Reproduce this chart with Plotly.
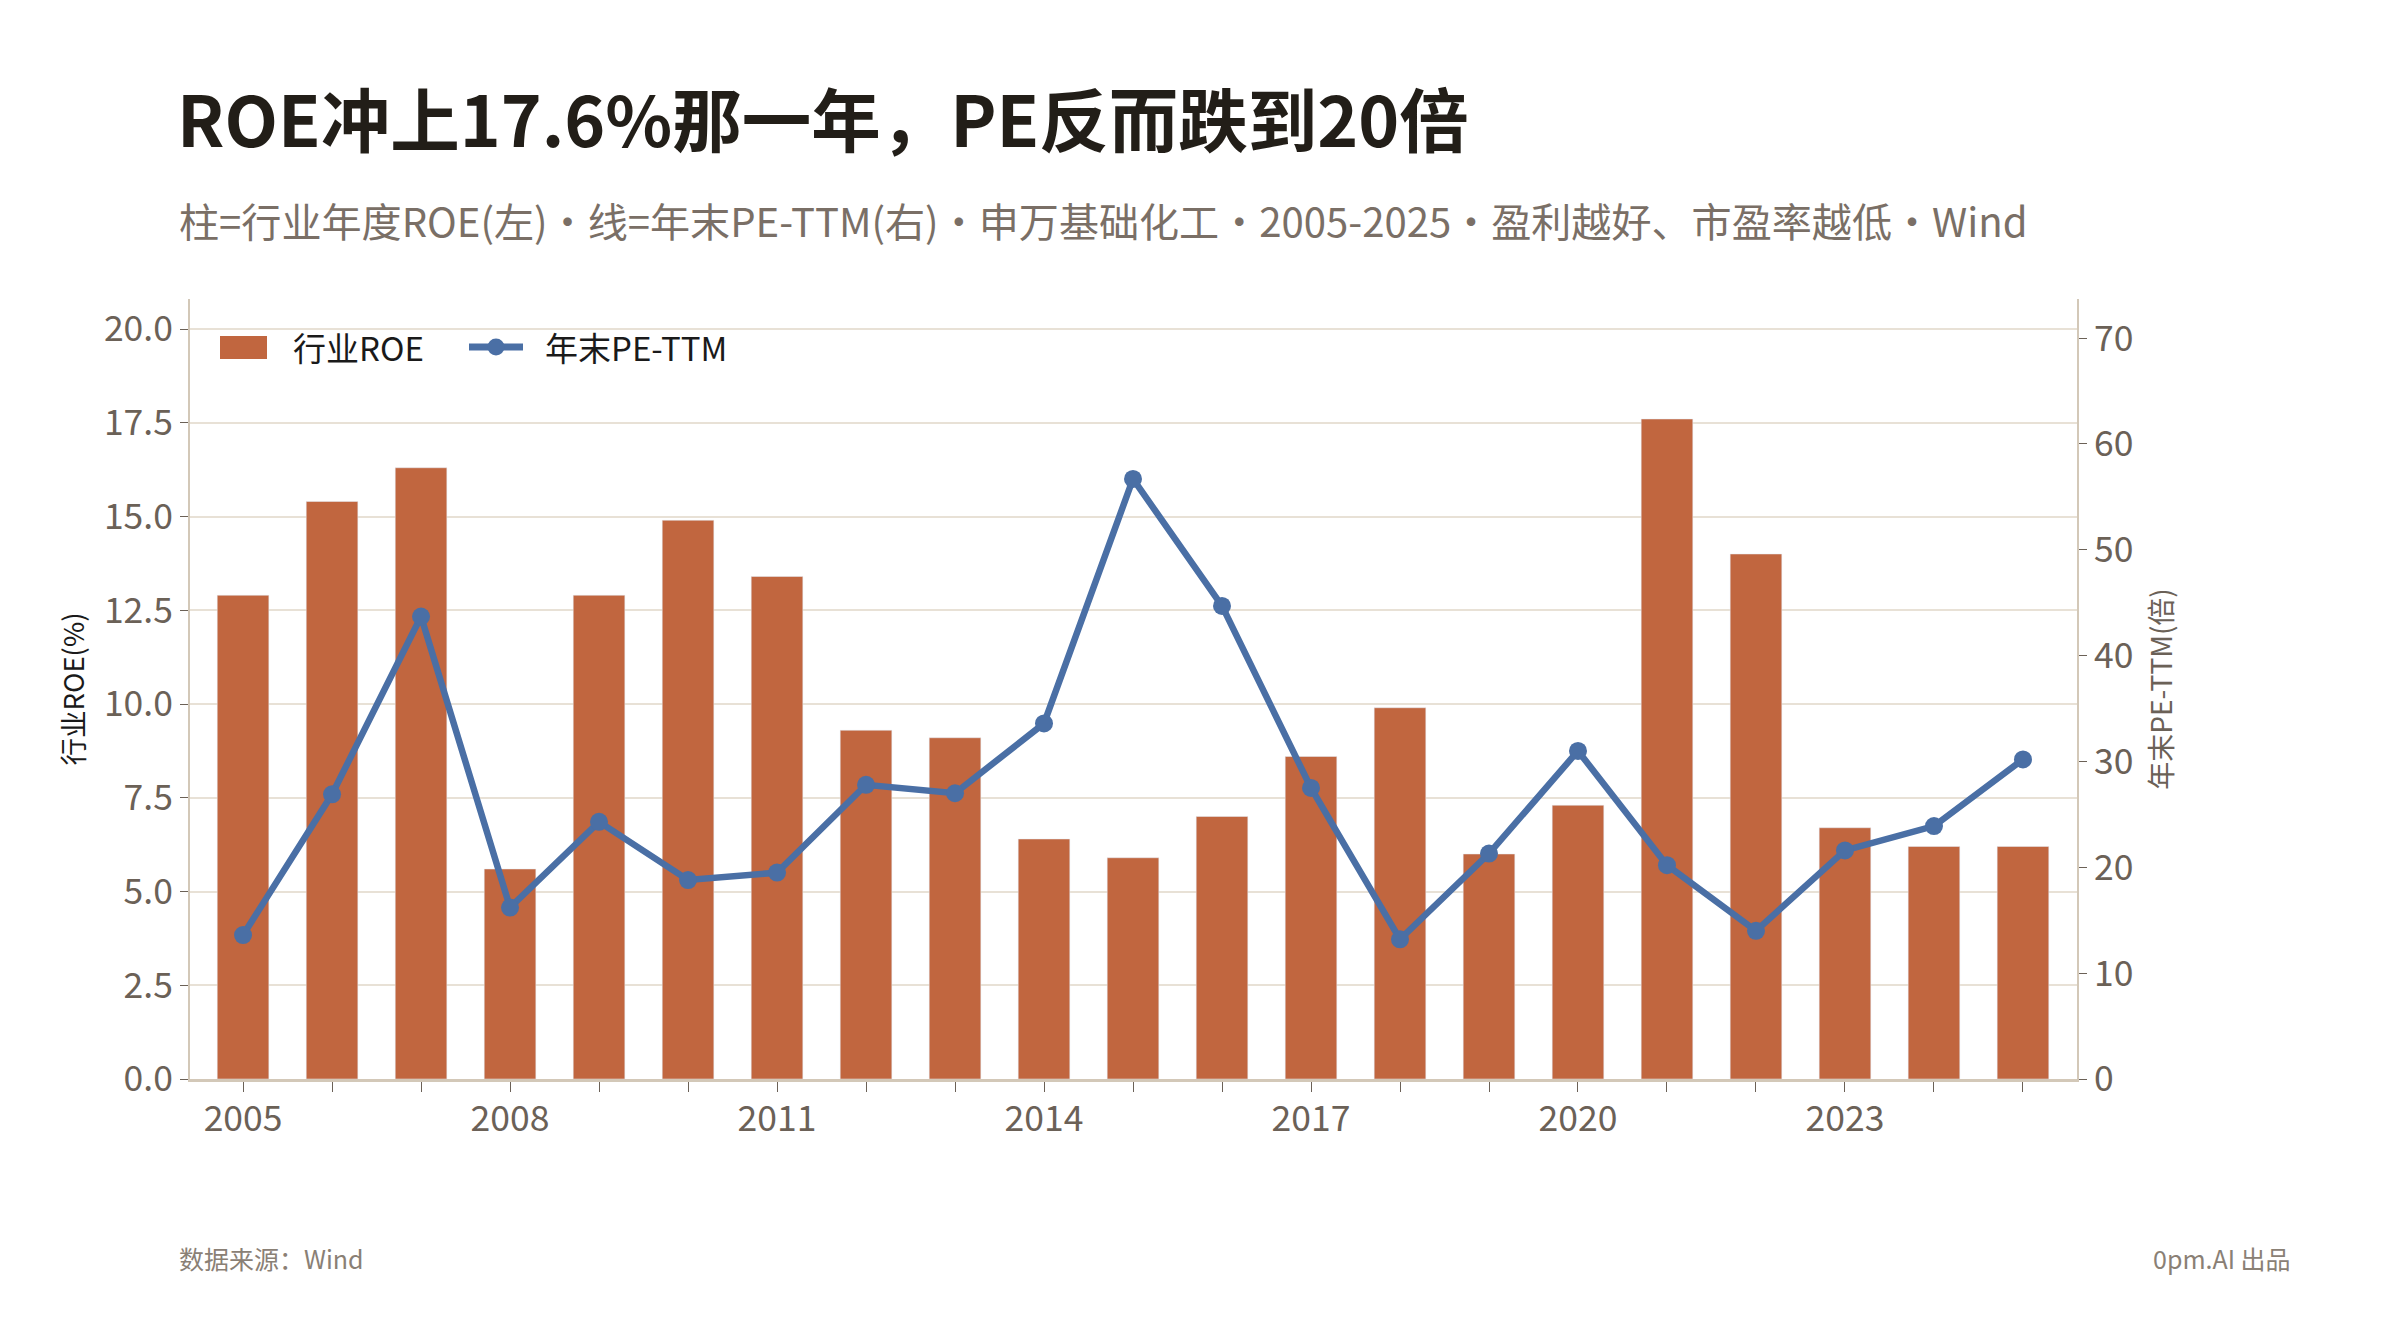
import plotly.graph_objects as go

years = list(range(2005, 2026))
roe = [12.9, 15.4, 16.3, 5.6, 12.9, 14.9, 13.4, 9.3, 9.1, 6.4, 5.9,
       7.0, 8.6, 9.9, 6.0, 7.3, 17.6, 14.0, 6.7, 6.2, 6.2]
pe = [13.6, 26.9, 43.7, 16.2, 24.3, 18.8, 19.5, 27.8, 27.0, 33.6, 56.7,
      44.7, 27.5, 13.2, 21.3, 31.0, 20.2, 14.0, 21.6, 23.9, 30.2]

title = "ROE冲上17.6%那一年，PE反而跌到20倍"
subtitle = "柱=行业年度ROE(左)・线=年末PE-TTM(右)・申万基础化工・2005-2025・盈利越好、市盈率越低・Wind"
source = "数据来源：Wind"
credit = "0pm.AI 出品"
bar_name = "行业ROE"
line_name = "年末PE-TTM"

FONT = "Noto Sans CJK SC"
BAR = "#c1663f"
LINE = "#4a6fa5"
GRID = "#e8e1d6"
AXIS = "#d3c8b8"
TICK = "#6b6157"

# plot area in px (figure coords)
L, R, T, B = 182, 2069, 291, 1071
PW, PH = R - L, B - T


def px(x):
    return (x - L) / PW


def py(y):
    return (B - y) / PH


fig = go.Figure()
fig.add_trace(go.Bar(x=years, y=roe, name=bar_name, marker_color=BAR,
                     width=0.58, yaxis="y"))
fig.add_trace(go.Scatter(x=years, y=pe, name=line_name, mode="lines+markers",
                         line=dict(color=LINE, width=6.5),
                         marker=dict(color=LINE, size=18), yaxis="y2"))

fig.update_layout(
    width=2400, height=1320,
    paper_bgcolor="white", plot_bgcolor="white",
    margin=dict(l=L, r=2400 - R, t=T, b=1320 - B),
    font=dict(family=FONT, color=TICK, size=35),
    title=dict(text="<b>" + title + "</b>", x=169 / 2400, xref="container",
               xanchor="left", y=1 - 115 / 1320, yanchor="middle",
               font=dict(size=69.5, color="#221e18", family=FONT)),
    showlegend=False,
    xaxis=dict(range=[2004.404, 2025.607], tickmode="linear", tick0=2005, dtick=3,
               ticks="outside", ticklen=10, tickcolor=TICK, showgrid=False,
               showline=True, linecolor=AXIS, linewidth=3,
               ticklabelstandoff=-4,
               minor=dict(dtick=1, tick0=2005, ticks="outside", ticklen=10,
                          tickcolor=TICK, showgrid=False),
               tickfont=dict(size=35.5, color=TICK)),
    yaxis=dict(range=[0, 20.8], tickmode="linear", tick0=0, dtick=2.5,
               tickformat=".1f", ticks="outside", ticklen=8, tickcolor=TICK,
               showgrid=True, gridcolor=GRID, gridwidth=2,
               showline=True, linecolor=AXIS, linewidth=2, zeroline=False,
               tickfont=dict(size=35.5, color=TICK),
               title=dict(text="行业ROE(%)", font=dict(size=27.5, color="#1a1a1a"),
                          standoff=11)),
    yaxis2=dict(range=[0, 73.7], overlaying="y", side="right",
                tickmode="linear", tick0=0, dtick=10, ticks="outside",
                ticklen=8, tickcolor=TICK, showgrid=False,
                showline=True, linecolor=AXIS, linewidth=2, zeroline=False,
                tickfont=dict(size=35.5, color=TICK),
                title=dict(text="年末PE-TTM(倍)", font=dict(size=28, color=TICK),
                           standoff=20)),
)

# legend drawn by hand (bigger swatches than plotly's own)
fig.add_shape(type="rect", xref="paper", yref="paper",
              x0=px(212), x1=px(259), y0=py(351), y1=py(328),
              fillcolor=BAR, line_width=0)
fig.add_shape(type="line", xref="paper", yref="paper",
              x0=px(461), x1=px(515), y0=py(339), y1=py(339),
              line=dict(color=LINE, width=7))
fig.add_shape(type="circle", xref="paper", yref="paper",
              x0=px(479.5), x1=px(496.5), y0=py(347.5), y1=py(330.5),
              fillcolor=LINE, line_width=0)
for name, x in [(bar_name, 283), (line_name, 535)]:
    fig.add_annotation(text=name, xref="paper", yref="paper", x=px(x), y=py(339),
                       xanchor="left", yanchor="middle", showarrow=False,
                       font=dict(size=33, color="#1a1a1a"))

fig.add_annotation(text=subtitle, xref="paper", yref="paper",
                   x=px(169), y=py(212),
                   xanchor="left", yanchor="middle", showarrow=False,
                   font=dict(size=40.1, color="#7a6f66"))
fig.add_annotation(text=source, xref="paper", yref="paper",
                   x=px(169), y=py(1250),
                   xanchor="left", yanchor="middle", showarrow=False,
                   font=dict(size=25, color="#8a8075"))
fig.add_annotation(text=credit, xref="paper", yref="paper",
                   x=px(2285), y=py(1250),
                   xanchor="right", yanchor="middle", showarrow=False,
                   font=dict(size=25, color="#8a8075"))

fig.write_html("out.html")
